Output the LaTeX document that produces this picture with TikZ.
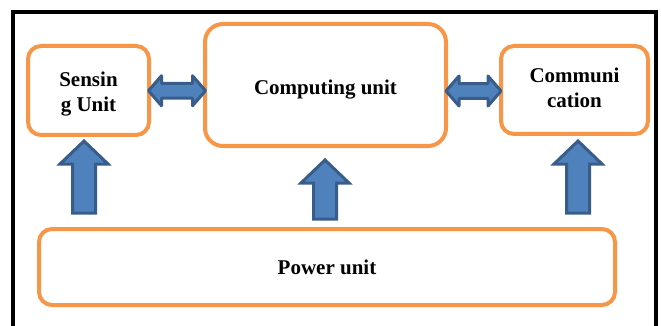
\documentclass[tikz,border=0pt]{standalone}
\usepackage{fontspec}
\setmainfont{Liberation Serif}
\usepackage{tikz}
\usetikzlibrary{calc}

\definecolor{unitorange}{HTML}{F79646}
\definecolor{arrowfill}{HTML}{4F81BD}
\definecolor{arrowdraw}{HTML}{385D8A}

% pushes a line of text down (top) or up (bottom) in its box
\newcommand{\padtop}[1]{\rule{0pt}{#1}}
\newcommand{\padbot}[1]{\rule[-#1]{0pt}{#1}}

\tikzset{
    unit/.style={draw=unitorange, line width=4pt, rounded corners=13pt, fill=white,
        align=center, inner sep=0pt, font=\fontsize{21}{25}\selectfont\bfseries},
    blockarrow/.style={draw=arrowdraw, fill=arrowfill, line width=3pt},
    powerarr/.pic={\draw[blockarrow] (0,0) -- (24,23) -- (11.5,23) -- (11.5,#1) -- (-11.5,#1) -- (-11.5,23) -- (-24,23) -- cycle;},
    linkarr/.pic={\draw[blockarrow, line join=round] (-#1,0) -- (-#1+13,-15) -- (-#1+13,-7.3) -- (#1-13,-7.3) -- (#1-13,-15) -- (#1,0) -- (#1-13,15) -- (#1-13,7.3) -- (-#1+13,7.3) -- (-#1+13,15) -- cycle;}
}

\begin{document}
\begin{tikzpicture}[x=1pt, y=-1pt]

    \useasboundingbox (0,0) rectangle (661,326);

    % Frame
    \draw [line width=3.5pt] (13,326) -- (13,12) -- (656,12) -- (656,326);

    % Units
    \node [unit, minimum width=121pt, minimum height=89pt] (sense) at (88.5,90.5) {\padtop{22.5pt}Sensin\\g Unit};
    \node [unit, minimum width=241pt, minimum height=122pt, rounded corners=18pt] (comp) at (325.5,85) {\padtop{24.5pt}Computing unit};
    \node [unit, minimum width=147pt, minimum height=88pt] (comm) at (574.5,90) {Communi\\cation\padbot{4pt}};
    \node [unit, minimum width=576pt, minimum height=76pt] (power) at (327,267) {Power unit};

    % Links between units
    \pic at ($(sense.east)!0.5!(comp.west)+(0,3)$) {linkarr=28.5};
    \pic at ($(comp.east)!0.5!(comm.west)+(0,3.5)$) {linkarr=27.5};

    % Power supply arrows
    \coordinate (ps) at (84,141);
    \coordinate (pc) at (325,160);
    \coordinate (pm) at (578,141);
    \pic at (ps) {powerarr=72};
    \pic at (pc) {powerarr=59};
    \pic at (pm) {powerarr=72};

\end{tikzpicture}
\end{document}
